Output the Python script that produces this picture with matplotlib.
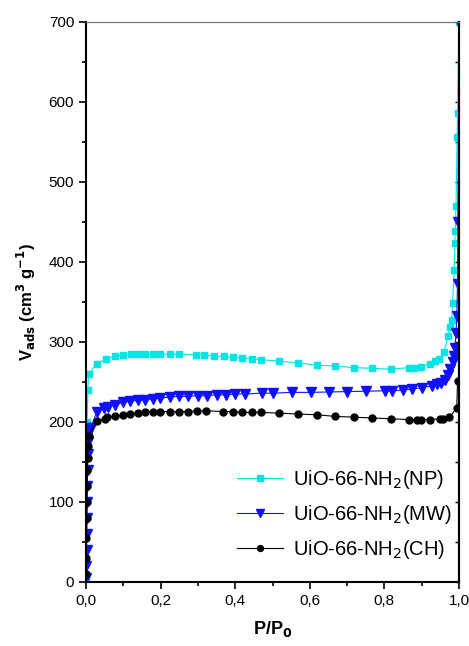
import matplotlib.pyplot as plt
from matplotlib.ticker import MultipleLocator, FuncFormatter

plt.rcParams['font.family'] = ['Liberation Sans', 'DejaVu Sans']

# UiO-66-NH2(NP)
np_x = [0.0002, 0.001, 0.003, 0.005, 0.007, 0.029, 0.054, 0.078, 0.1, 0.12, 0.139, 0.159,
        0.18, 0.198, 0.225, 0.248, 0.295, 0.317, 0.344, 0.369, 0.394, 0.419, 0.444,
        0.468, 0.518, 0.567, 0.618, 0.668, 0.718, 0.768, 0.817, 0.867, 0.878, 0.897,
        0.922, 0.935, 0.947, 0.96, 0.971, 0.976, 0.98, 0.983, 0.987, 0.989, 0.99,
        0.992, 0.995, 0.996, 1.0]
np_y = [5, 100, 200, 240, 260, 273, 279, 282, 284, 285, 285, 285,
        285, 285, 285, 285, 284, 284, 282, 282, 281, 280, 279,
        278, 276, 274, 271, 270, 268, 267, 266, 268, 268, 269,
        273, 276, 279, 288, 307, 319, 327, 349, 390, 424, 439,
        470, 556, 586, 700]

# UiO-66-NH2(MW)
mw_x = [0.0005, 0.001, 0.0015, 0.002, 0.0025, 0.003, 0.0035, 0.004, 0.0045, 0.005, 0.0055,
        0.006, 0.0125, 0.029, 0.049, 0.058, 0.078, 0.1, 0.118, 0.139, 0.159, 0.18,
        0.198, 0.225, 0.248, 0.274, 0.301, 0.325, 0.35, 0.375, 0.4, 0.425, 0.471,
        0.502, 0.551, 0.602, 0.651, 0.7, 0.751, 0.802, 0.82, 0.851, 0.875, 0.9,
        0.927, 0.94, 0.953, 0.962, 0.971, 0.977, 0.983, 0.987, 0.989, 0.992, 0.994,
        0.996, 0.997, 1.0]
mw_y = [5, 20, 40, 60, 80, 100, 120, 140, 160, 175, 185,
        193, 193, 212, 217, 219, 221, 225, 226, 227, 228, 229,
        230, 231, 232, 232, 233, 233, 234, 234, 235, 235, 236,
        236, 237, 237, 237.5, 238, 238.5, 239, 239, 240, 241, 243,
        245, 247, 249, 252, 259, 266, 275, 283, 293, 311, 332,
        372, 450, 700]

# UiO-66-NH2(CH)
ch_x = [0.0003, 0.0008, 0.0013, 0.0018, 0.0023, 0.003, 0.0037, 0.0045, 0.0055, 0.007,
        0.029, 0.051, 0.057, 0.078, 0.1, 0.118, 0.139, 0.159, 0.18, 0.198, 0.225,
        0.248, 0.274, 0.298, 0.323, 0.368, 0.393, 0.418, 0.444, 0.468, 0.518, 0.567,
        0.618, 0.668, 0.718, 0.768, 0.817, 0.867, 0.887, 0.897, 0.922, 0.949, 0.958,
        0.974, 0.994, 0.996]
ch_y = [10, 30, 55, 80, 100, 120, 140, 155, 170, 183,
        201, 204, 206, 207, 209, 210, 211, 212, 212, 213, 213,
        213, 213, 214, 214, 213, 213, 212, 212, 212, 211, 210,
        209, 207, 206, 205, 204, 203, 203, 203, 203, 204, 204,
        206, 217, 251]

fig = plt.figure(figsize=(4.69, 6.46), dpi=100)
ax = fig.add_axes([0.1834, 0.0991, 0.7953, 0.8669])

ax.plot(np_x, np_y, '-', color='#00e5e5', lw=0.8, marker='s', ms=4.5, label='UiO-66-NH$_2$(NP)')
ax.plot(mw_x, mw_y, '-', color='#1010ff', lw=0.8, marker='v', ms=6.5, label='UiO-66-NH$_2$(MW)')
ax.plot(ch_x, ch_y, '-', color='black', lw=0.8, marker='o', ms=5, label='UiO-66-NH$_2$(CH)')

ax.set_xlim(0, 1.0)
ax.set_ylim(0, 700)
ax.xaxis.set_major_locator(MultipleLocator(0.2))
ax.xaxis.set_minor_locator(MultipleLocator(0.1))
ax.yaxis.set_major_locator(MultipleLocator(100))
ax.yaxis.set_minor_locator(MultipleLocator(50))
ax.xaxis.set_major_formatter(FuncFormatter(lambda v, p: f'{v:.1f}'.replace('.', ',')))

ax.tick_params(which='both', direction='out', labelsize=11, width=1.2)
ax.tick_params(which='major', length=5)
ax.tick_params(which='minor', length=3)
for s in ['left', 'bottom']:
    ax.spines[s].set_linewidth(1.5)
ax.spines['top'].set_linewidth(0.9)
ax.spines['top'].set_color('#777777')
ax.spines['right'].set_linewidth(1.5)

ax2 = ax.secondary_yaxis('right')
ax2.yaxis.set_major_locator(MultipleLocator(100))
ax2.yaxis.set_minor_locator(MultipleLocator(50))
ax2.tick_params(which='both', direction='in', labelright=False, length=3, width=1)
ax2.spines['right'].set_linewidth(1.5)

ax.set_xlabel('P/P$_\\mathbf{0}$', fontsize=13, fontweight='bold', labelpad=8)
ax.set_ylabel('V$_{\\mathbf{ads}}$ (cm$^{\\mathbf{3}}$ g$^{\\mathbf{-1}}$)', fontsize=12, fontweight='bold', labelpad=8)

ax.legend(loc='lower right', bbox_to_anchor=(1.03, 0.005), frameon=False, fontsize=14.5,
          handlelength=2.3, handletextpad=0.5, labelspacing=0.6, markerscale=0.85)

fig.savefig('out.png', dpi=100)
